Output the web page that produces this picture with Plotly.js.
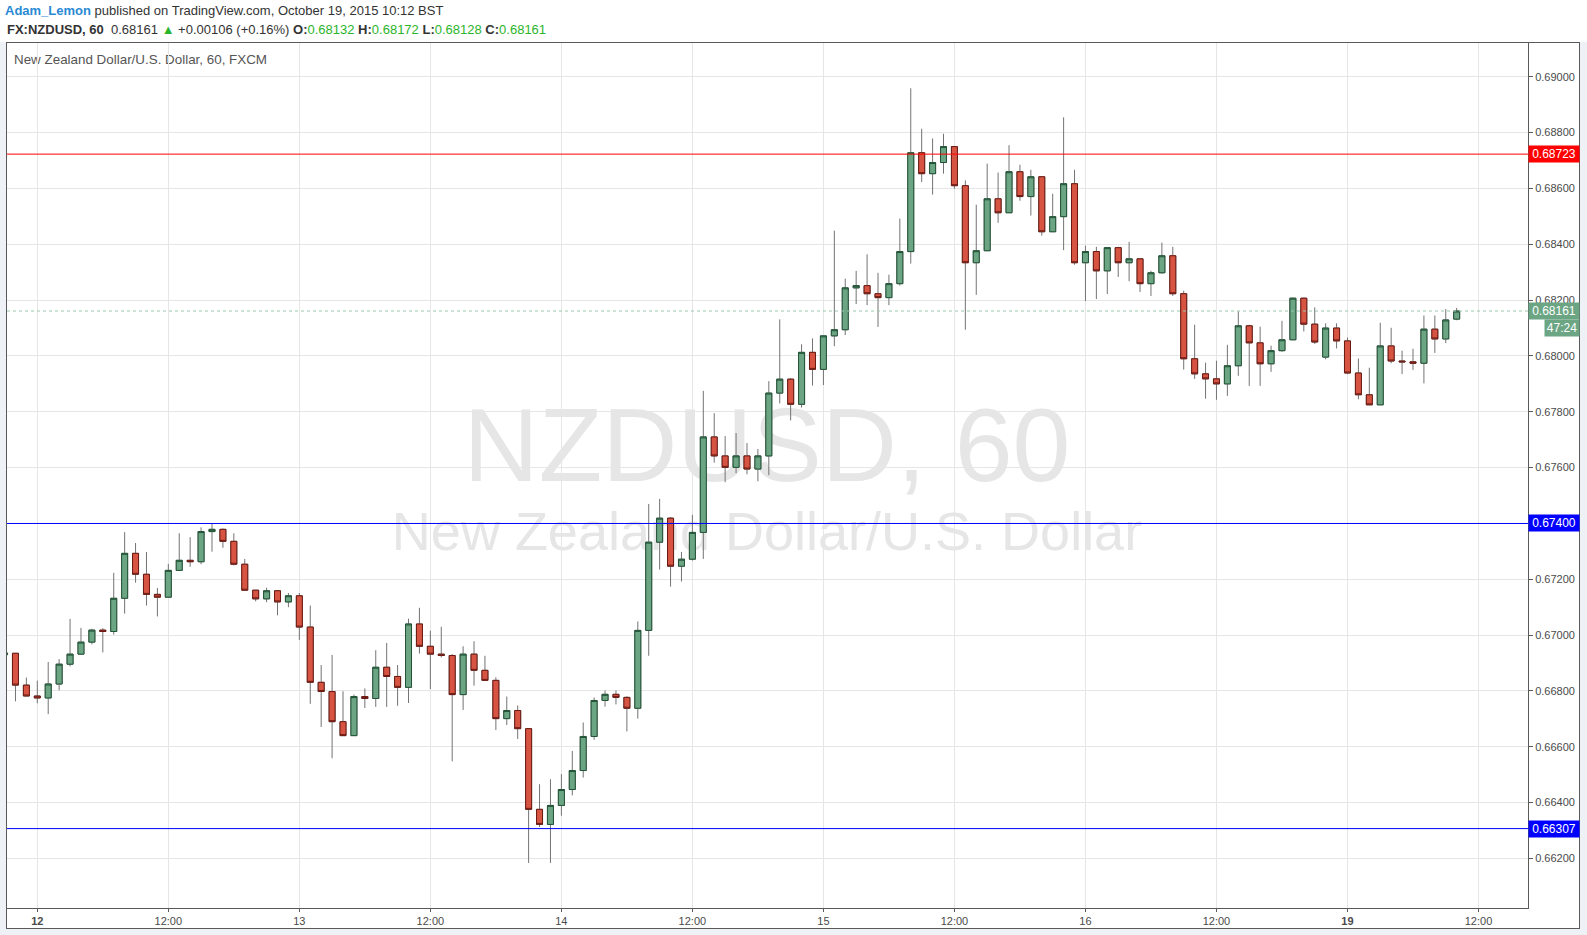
<!DOCTYPE html>
<html><head><meta charset="utf-8">
<script src="https://cdn.plot.ly/plotly-3.0.1.min.js"></script>
<style>
html,body{margin:0;padding:0;}
body{width:1587px;height:935px;background:#eef2f6;position:relative;overflow:hidden;font-family:"Liberation Sans",Arial,sans-serif;}
#hdr{position:absolute;left:0;top:0;width:1587px;height:42px;background:#fff;}
.l1{position:absolute;left:5px;top:3px;font-size:13px;color:#333;white-space:nowrap;}
.l2{position:absolute;left:7px;top:22px;font-size:13px;color:#333;white-space:nowrap;}
.g{color:#2bb52b;}
#frame{position:absolute;left:6px;top:42px;width:1572px;height:885px;border:1px solid #5a5a5a;background:#fff;}
.wm{position:absolute;left:167px;width:1200px;text-align:center;color:#e6e6e6;white-space:nowrap;line-height:1;}
#ttl{position:absolute;left:14px;top:52px;font-size:13.4px;color:#555;white-space:nowrap;}
#chart{position:absolute;left:0;top:0;width:1587px;height:935px;}
</style>
</head>
<body>
<div id="hdr">
  <div class="l1"><span style="color:#2a8ad4;font-weight:600">Adam_Lemon</span> published on TradingView.com, October 19, 2015 10:12 BST</div>
  <div class="l2" id="quote"></div>
</div>
<div id="frame"></div>
<div class="wm" style="top:393px;font-size:104px;">NZDUSD, 60</div>
<div class="wm" style="top:504px;font-size:54px;">New Zealand Dollar/U.S. Dollar</div>
<div id="ttl">New Zealand Dollar/U.S. Dollar, 60, FXCM</div>
<div id="chart"></div>
<script>
// ---- data ----
const times = [
'2015-10-09 21:00',
'2015-10-11 22:00','2015-10-11 23:00',
'2015-10-12 00:00','2015-10-12 01:00','2015-10-12 02:00','2015-10-12 03:00','2015-10-12 04:00','2015-10-12 05:00','2015-10-12 06:00','2015-10-12 07:00','2015-10-12 08:00','2015-10-12 09:00','2015-10-12 10:00','2015-10-12 11:00',
'2015-10-12 12:00','2015-10-12 13:00','2015-10-12 14:00','2015-10-12 15:00','2015-10-12 16:00','2015-10-12 17:00','2015-10-12 18:00','2015-10-12 19:00','2015-10-12 20:00','2015-10-12 21:00','2015-10-12 22:00','2015-10-12 23:00',
'2015-10-13 00:00','2015-10-13 01:00','2015-10-13 02:00','2015-10-13 03:00','2015-10-13 04:00','2015-10-13 05:00','2015-10-13 06:00','2015-10-13 07:00','2015-10-13 08:00','2015-10-13 09:00','2015-10-13 10:00','2015-10-13 11:00',
'2015-10-13 12:00','2015-10-13 13:00','2015-10-13 14:00','2015-10-13 15:00','2015-10-13 16:00','2015-10-13 17:00','2015-10-13 18:00','2015-10-13 19:00','2015-10-13 20:00','2015-10-13 21:00','2015-10-13 22:00','2015-10-13 23:00',
'2015-10-14 00:00','2015-10-14 01:00','2015-10-14 02:00','2015-10-14 03:00','2015-10-14 04:00','2015-10-14 05:00','2015-10-14 06:00','2015-10-14 07:00','2015-10-14 08:00','2015-10-14 09:00','2015-10-14 10:00','2015-10-14 11:00',
'2015-10-14 12:00','2015-10-14 13:00','2015-10-14 14:00','2015-10-14 15:00','2015-10-14 16:00','2015-10-14 17:00','2015-10-14 18:00','2015-10-14 19:00','2015-10-14 20:00','2015-10-14 21:00','2015-10-14 22:00','2015-10-14 23:00',
'2015-10-15 00:00','2015-10-15 01:00','2015-10-15 02:00','2015-10-15 03:00','2015-10-15 04:00','2015-10-15 05:00','2015-10-15 06:00','2015-10-15 07:00','2015-10-15 08:00','2015-10-15 09:00','2015-10-15 10:00','2015-10-15 11:00',
'2015-10-15 12:00','2015-10-15 13:00','2015-10-15 14:00','2015-10-15 15:00','2015-10-15 16:00','2015-10-15 17:00','2015-10-15 18:00','2015-10-15 19:00','2015-10-15 20:00','2015-10-15 21:00','2015-10-15 22:00','2015-10-15 23:00',
'2015-10-16 00:00','2015-10-16 01:00','2015-10-16 02:00','2015-10-16 03:00','2015-10-16 04:00','2015-10-16 05:00','2015-10-16 06:00','2015-10-16 07:00','2015-10-16 08:00','2015-10-16 09:00','2015-10-16 10:00','2015-10-16 11:00',
'2015-10-16 12:00','2015-10-16 13:00','2015-10-16 14:00','2015-10-16 15:00','2015-10-16 16:00','2015-10-16 17:00','2015-10-16 18:00','2015-10-16 19:00','2015-10-16 20:00','2015-10-16 21:00',
'2015-10-18 22:00','2015-10-18 23:00',
'2015-10-19 00:00','2015-10-19 01:00','2015-10-19 02:00','2015-10-19 03:00','2015-10-19 04:00','2015-10-19 05:00','2015-10-19 06:00','2015-10-19 07:00','2015-10-19 08:00','2015-10-19 09:00','2015-10-19 10:00'
];
const open = [
0.66930,0.66935,0.66821,
0.66782,0.66775,0.66825,0.66896,0.66932,0.66975,0.67018,0.67013,0.67132,0.67293,0.67218,0.67146,0.67136,0.67232,0.67268,0.67263,0.67371,0.67379,0.67336,0.67254,0.67161,0.67130,0.67159,0.67119,
0.67141,0.67029,0.66831,0.66798,0.66690,0.66640,0.66780,0.66773,0.66885,0.66852,0.66813,0.67040,0.66960,0.66932,0.66927,0.66787,0.66932,0.66874,0.66838,0.66701,0.66730,0.66665,0.66376,0.66322,
0.66390,0.66447,0.66515,0.66637,0.66766,0.66788,0.66777,0.66738,0.67017,0.67333,0.67419,0.67247,0.67272,0.67368,0.67710,0.67642,0.67601,0.67642,0.67595,0.67642,0.67867,0.67917,0.67827,0.68013,
0.67952,0.68072,0.68094,0.68244,0.68252,0.68223,0.68209,0.68259,0.68374,0.68728,0.68653,0.68693,0.68750,0.68610,0.68334,0.68377,0.68563,0.68513,0.68660,0.68571,0.68642,0.68445,0.68499,0.68617,
0.68334,0.68374,0.68305,0.68388,0.68334,0.68348,0.68259,0.68298,0.68359,0.68223,0.67990,0.67936,0.67918,0.67900,0.67965,0.68108,0.68047,0.67972,0.68019,0.68058,0.68207,0.68114,
0.67996,0.68100,0.68054,0.67939,0.67861,0.67825,0.68036,0.67982,0.67979,0.67974,0.68096,0.68061,0.68132
];
const high = [
0.66945,0.66936,0.66848,
0.66837,0.66904,0.66914,0.67058,0.67026,0.67023,0.67025,0.67223,0.67369,0.67330,0.67298,0.67169,0.67255,0.67365,0.67351,0.67386,0.67398,0.67382,0.67365,0.67273,0.67161,0.67170,0.67160,0.67151,
0.67151,0.67106,0.66893,0.66929,0.66799,0.66787,0.66809,0.66946,0.66972,0.66893,0.67059,0.67098,0.67016,0.67030,0.66932,0.66960,0.66978,0.66926,0.66849,0.66780,0.66748,0.66666,0.66466,0.66484,
0.66502,0.66585,0.66687,0.66777,0.66802,0.66802,0.66781,0.67049,0.67470,0.67488,0.67423,0.67298,0.67431,0.67875,0.67795,0.67713,0.67724,0.67688,0.67667,0.67910,0.68131,0.67920,0.68042,0.68063,
0.68072,0.68449,0.68277,0.68305,0.68364,0.68298,0.68291,0.68492,0.68959,0.68814,0.68779,0.68796,0.68750,0.68629,0.68542,0.68689,0.68657,0.68755,0.68685,0.68667,0.68642,0.68581,0.68855,0.68667,
0.68395,0.68391,0.68388,0.68391,0.68409,0.68348,0.68305,0.68406,0.68391,0.68234,0.68112,0.67976,0.67983,0.68040,0.68160,0.68112,0.68105,0.68037,0.68126,0.68209,0.68209,0.68174,
0.68117,0.68117,0.68066,0.67991,0.67958,0.68119,0.68101,0.68019,0.68026,0.68145,0.68145,0.68168,0.68172
];
const low = [
0.66925,0.66763,0.66782,
0.66756,0.66717,0.66802,0.66888,0.66932,0.66967,0.66938,0.67002,0.67077,0.67188,0.67106,0.67067,0.67136,0.67230,0.67245,0.67254,0.67299,0.67313,0.67250,0.67160,0.67121,0.67118,0.67071,0.67100,
0.66983,0.66754,0.66671,0.66559,0.66640,0.66640,0.66739,0.66743,0.66743,0.66747,0.66757,0.66934,0.66807,0.66920,0.66548,0.66732,0.66819,0.66838,0.66660,0.66678,0.66628,0.66184,0.66313,0.66184,
0.66353,0.66426,0.66490,0.66625,0.66744,0.66752,0.66655,0.66701,0.66926,0.67235,0.67174,0.67192,0.67267,0.67273,0.67618,0.67548,0.67580,0.67576,0.67551,0.67573,0.67830,0.67769,0.67815,0.67894,
0.67896,0.68035,0.68075,0.68186,0.68182,0.68104,0.68182,0.68252,0.68331,0.68623,0.68578,0.68653,0.68599,0.68094,0.68219,0.68377,0.68477,0.68513,0.68556,0.68503,0.68431,0.68445,0.68379,0.68327,
0.68197,0.68204,0.68222,0.68283,0.68268,0.68229,0.68215,0.68295,0.68215,0.67951,0.67918,0.67847,0.67843,0.67857,0.67929,0.67893,0.67893,0.67943,0.68015,0.68057,0.68088,0.68043,
0.67988,0.68027,0.67935,0.67845,0.67825,0.67825,0.67974,0.67935,0.67950,0.67902,0.68011,0.68046,0.68128
];
const close = [
0.66936,0.66821,0.66782,
0.66775,0.66825,0.66896,0.66932,0.66975,0.67018,0.67013,0.67132,0.67293,0.67218,0.67146,0.67136,0.67232,0.67268,0.67263,0.67371,0.67379,0.67336,0.67254,0.67161,0.67130,0.67159,0.67119,0.67141,
0.67029,0.66831,0.66798,0.66690,0.66640,0.66780,0.66773,0.66885,0.66852,0.66813,0.67040,0.66960,0.66932,0.66927,0.66787,0.66932,0.66874,0.66838,0.66701,0.66730,0.66665,0.66376,0.66322,0.66390,
0.66447,0.66515,0.66637,0.66766,0.66788,0.66777,0.66738,0.67017,0.67333,0.67419,0.67247,0.67272,0.67368,0.67710,0.67642,0.67601,0.67642,0.67595,0.67642,0.67867,0.67917,0.67827,0.68013,0.67952,
0.68072,0.68094,0.68244,0.68252,0.68223,0.68209,0.68259,0.68374,0.68728,0.68653,0.68693,0.68750,0.68610,0.68334,0.68377,0.68563,0.68513,0.68660,0.68571,0.68642,0.68445,0.68499,0.68617,0.68334,
0.68374,0.68305,0.68388,0.68334,0.68348,0.68259,0.68298,0.68359,0.68223,0.67990,0.67936,0.67918,0.67900,0.67965,0.68108,0.68047,0.67972,0.68019,0.68058,0.68207,0.68114,0.68050,
0.68100,0.68054,0.67939,0.67861,0.67825,0.68036,0.67982,0.67979,0.67974,0.68096,0.68061,0.68129,0.68161
];
const tickTimes = ['2015-10-12 00:00','2015-10-12 12:00','2015-10-13 00:00','2015-10-13 12:00','2015-10-14 00:00','2015-10-14 12:00',
                   '2015-10-15 00:00','2015-10-15 12:00','2015-10-16 00:00','2015-10-16 12:00','2015-10-19 00:00','2015-10-19 12:00'];
const tickLabels = ['<b>12</b>','12:00','13','12:00','14','12:00','15','12:00','16','12:00','<b>19</b>','12:00'];
const resistanceLevel = 0.68723;
const supportLevels = [0.67400, 0.66307];
const barCountdown = '47:24';
const changeText = '+0.00106 (+0.16%)';

// ---- header quote ----
const n = close.length - 1;
const f5 = v => v.toFixed(5);
document.getElementById('quote').innerHTML =
  '<b>FX:NZDUSD, 60</b>&nbsp; ' + f5(close[n]) + ' <span class="g">&#9650;</span> ' + changeText +
  ' <b>O:</b><span class="g">' + f5(open[n]) + '</span> <b>H:</b><span class="g">' + f5(high[n]) +
  '</span> <b>L:</b><span class="g">' + f5(low[n]) + '</span> <b>C:</b><span class="g">' + f5(close[n]) + '</span>';

// ---- traces ----
const bodyHigh = open.map((o, i) => Math.max(o, close[i]));
const bodyLow = open.map((o, i) => Math.min(o, close[i]));
const WICK = '#737375';
const wicks = {
  type: 'candlestick', x: times, open: open, high: high, low: low, close: close,
  increasing: {line: {color: WICK, width: 1}, fillcolor: WICK},
  decreasing: {line: {color: WICK, width: 1}, fillcolor: WICK},
  whiskerwidth: 0, hoverinfo: 'skip', showlegend: false
};
const bodies = {
  type: 'candlestick', x: times, open: open, high: bodyHigh, low: bodyLow, close: close,
  increasing: {line: {color: '#225437', width: 1}, fillcolor: '#6ba583'},
  decreasing: {line: {color: '#6b1a12', width: 1}, fillcolor: '#d75442'},
  whiskerwidth: 0, hoverinfo: 'skip', showlegend: false
};

const lastPrice = close[n];
const hline = (y, color, dash) => ({type: 'line', xref: 'paper', x0: 0, x1: 1, yref: 'y', y0: y, y1: y,
  line: {color: color, width: 1, dash: dash || 'solid'}});
const tag = (y, color, text, extra) => Object.assign({xref: 'paper', x: 1, xanchor: 'left', yref: 'y', y: y,
  text: text, showarrow: false, bgcolor: color, width: 50, height: 16, borderpad: 0, align: 'center',
  font: {family: 'Liberation Sans, Arial, sans-serif', size: 12, color: '#ffffff'}}, extra || {});

const tickFont = {family: 'Liberation Sans, Arial, sans-serif', size: 11, color: '#4a4a4a'};
const layout = {
  width: 1587, height: 935,
  margin: {l: 7, r: 59, t: 43, b: 27, pad: 0},
  paper_bgcolor: 'rgba(0,0,0,0)', plot_bgcolor: 'rgba(0,0,0,0)',
  showlegend: false, boxgap: 0.45, boxgroupgap: 0,
  xaxis: {
    type: 'date', range: ['2015-10-09 21:13:30', '2015-10-19 16:32:00'],
    rangebreaks: [{bounds: ['2015-10-09 22:00', '2015-10-11 22:00']}, {bounds: ['2015-10-16 22:00', '2015-10-18 22:00']}],
    rangeslider: {visible: false},
    tickmode: 'array', tickvals: tickTimes, ticktext: tickLabels,
    showgrid: true, gridcolor: '#e6e6e6', gridwidth: 1,
    showline: true, mirror: true, linecolor: '#5a5a5a', linewidth: 1,
    ticks: 'outside', ticklen: 3, tickcolor: '#5a5a5a', tickfont: tickFont,
    zeroline: false, fixedrange: true
  },
  yaxis: {
    side: 'right', range: [0.660226, 0.691211],
    tickmode: 'linear', tick0: 0.662, dtick: 0.002, tickformat: '.5f',
    showgrid: true, gridcolor: '#e6e6e6', gridwidth: 1,
    showline: true, mirror: true, linecolor: '#5a5a5a', linewidth: 1,
    ticks: 'outside', ticklen: 4, tickcolor: '#5a5a5a', tickfont: tickFont,
    zeroline: false, fixedrange: true
  },
  shapes: [
    hline(lastPrice, '#9cc7ae', 'dot'),
    hline(resistanceLevel, '#ff0000'),
    hline(supportLevels[0], '#0000ff'),
    hline(supportLevels[1], '#0000ff')
  ],
  annotations: [
    tag(resistanceLevel, '#ff0000', f5(resistanceLevel)),
    tag(supportLevels[0], '#0000ff', f5(supportLevels[0])),
    tag(supportLevels[1], '#0000ff', f5(supportLevels[1])),
    tag(lastPrice, '#6ba583', f5(lastPrice)),
    tag(lastPrice, '#6ba583', barCountdown, {xshift: 16, yshift: -17, width: 34})
  ]
};
Plotly.newPlot('chart', [wicks, bodies], layout, {staticPlot: true, displayModeBar: false});
</script>
</body></html>
